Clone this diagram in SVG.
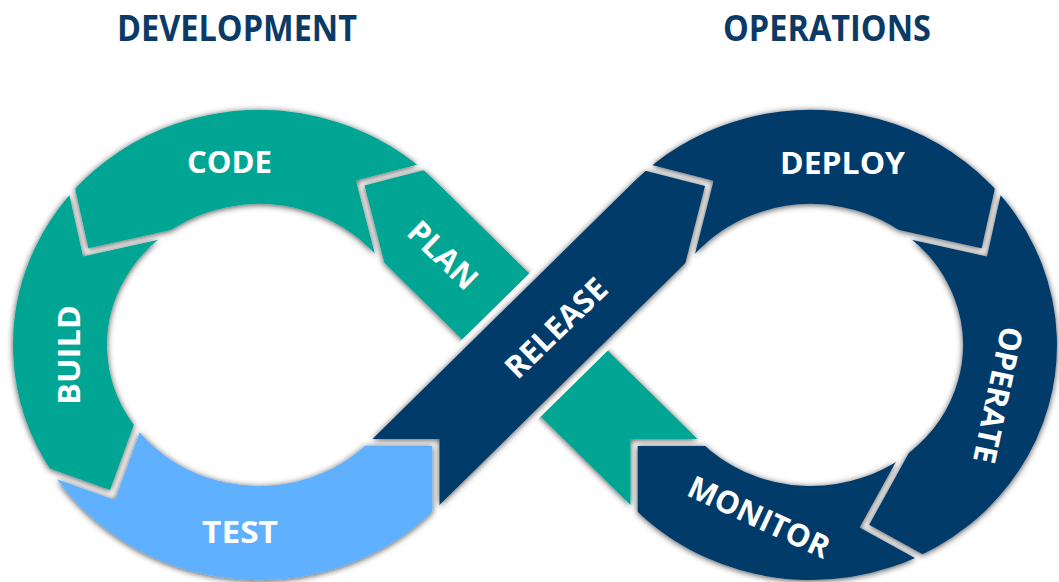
<svg xmlns="http://www.w3.org/2000/svg" width="1059" height="582" viewBox="0 0 1059 582">
<style>
.t{font-family:"Open Sans","Liberation Sans",sans-serif;font-weight:700;}
.title{fill:#0c3a66;font-size:35px;}
.lbl{fill:#ffffff;font-size:31px;}
.band{fill:none;stroke-width:94;stroke-linecap:butt;}
.teal{stroke:#00a594;}
.navy{stroke:#013b6b;}
.blue{stroke:#5eb0fe;}
</style>
<defs>
<filter id="sh" filterUnits="userSpaceOnUse" x="-100" y="-100" width="1300" height="800">
<feDropShadow dx="0" dy="1" stdDeviation="3" flood-color="#000" flood-opacity="0.7"/>
</filter>
<clipPath id="cPlan"><polygon points="720.5,439 630.5,439 630.5,529 480,420 387,272.7 364.5,185.6 451.6,163.1 590,270"/></clipPath>
<clipPath id="cCode"><polygon points="378.4,267.6 355.9,180.5 443,158 443,60 20,60 68.9,160.3 88.4,248.2 176.3,228.7 259,345"/></clipPath>
<clipPath id="cBuild"><polygon points="170.9,237.1 83,256.6 63.5,168.7 -40,140 -40,480 25.2,459.8 110,490 140.9,405.4 259,345"/></clipPath>
<clipPath id="cTest"><polygon points="145.9,415.4 115,500 30.2,469.8 0,600 440,600 432.3,536 432.3,446 342.3,446 259,345"/></clipPath>
<clipPath id="cRelease"><polygon points="349.5,438.9 439.5,438.9 439.5,528.9 560,470 682.8,273.1 705,185.9 617.8,163.7 480,280"/></clipPath>
<clipPath id="cDeploy"><polygon points="691.4,268 713.6,180.8 626.4,158.6 626,60 1040,60 1001.1,160.3 981.6,248.2 893.7,228.7 811,345"/></clipPath>
<clipPath id="cOperate"><polygon points="899.1,237.1 987,256.6 1006.5,168.7 1100,140 1100,620 948,568.3 869.2,524.8 912.7,446 811,345"/></clipPath>
<clipPath id="cMonitor"><polygon points="903.1,448.8 859.6,527.6 938.4,571.1 900,620 600,620 637.7,536 637.7,446 727.7,446 811,345"/></clipPath>
</defs>
<rect width="1059" height="582" fill="#ffffff"/>

<g id="title-development"><text class="t title" x="237" y="41" text-anchor="middle" textLength="240" lengthAdjust="spacingAndGlyphs">DEVELOPMENT</text></g>
<g id="title-operations"><text class="t title" x="827" y="41" text-anchor="middle" textLength="208" lengthAdjust="spacingAndGlyphs">OPERATIONS</text></g>

<g id="plan">
<g filter="url(#sh)"><path class="band teal" clip-path="url(#cPlan)" d="M667.6 475.4 L402.4 214.6 A199 188 0 0 0 310.5 163.4"/></g>
<text class="t lbl" text-anchor="middle" transform="translate(443 255) rotate(44)" x="0" y="11">PLAN</text>
</g>

<g id="code">
<g filter="url(#sh)"><path class="band teal" clip-path="url(#cCode)" d="M423.8 235.6 L402.4 214.6 A199 188 0 0 0 72 280.7"/></g>
<text class="t lbl" x="229.5" y="173" text-anchor="middle" textLength="85" lengthAdjust="spacingAndGlyphs">CODE</text>
</g>

<g id="build">
<g filter="url(#sh)"><path class="band teal" clip-path="url(#cBuild)" d="M144.9 191 A199 188 0 0 0 159.5 507.8"/></g>
<text class="t lbl" text-anchor="middle" transform="translate(80 355) rotate(-90)" x="0" y="0" textLength="100" lengthAdjust="spacingAndGlyphs">BUILD</text>
</g>

<g id="test">
<g filter="url(#sh)"><path class="band blue" clip-path="url(#cTest)" d="M72 409.3 A199 188 0 0 0 402.4 475.4 L445.2 433.3"/></g>
<text class="t lbl" x="240" y="543" text-anchor="middle" textLength="76" lengthAdjust="spacingAndGlyphs">TEST</text>
</g>

<g id="deploy">
<g filter="url(#sh)"><path class="band navy" clip-path="url(#cDeploy)" d="M646.2 235.6 L667.6 214.6 A199 188 0 0 1 998 280.7"/></g>
<text class="t lbl" x="842.5" y="174" text-anchor="middle" textLength="125" lengthAdjust="spacingAndGlyphs">DEPLOY</text>
</g>

<g id="operate">
<g filter="url(#sh)"><path class="band navy" clip-path="url(#cOperate)" d="M925.1 191 A199 188 0 0 1 828.3 532.3"/></g>
<text class="t lbl" text-anchor="middle" transform="translate(998 395) rotate(102)" x="0" y="11">OPERATE</text>
</g>

<g id="monitor">
<g filter="url(#sh)"><path class="band navy" clip-path="url(#cMonitor)" d="M938.9 489 A199 188 0 0 1 667.6 475.4 L624.8 433.3"/></g>
<text class="t lbl" text-anchor="middle" transform="translate(759 517) rotate(25)" x="0" y="11">MONITOR</text>
</g>

<polygon id="crossing-gap" points="547.7,255.3 624.9,333.7 522.3,434.7 445.1,356.3" fill="#ffffff"/>

<g id="release">
<g filter="url(#sh)"><path class="band navy" clip-path="url(#cRelease)" d="M402.4 475.4 L667.6 214.6 A199 188 0 0 1 776.5 159.9"/></g>
<text class="t lbl" text-anchor="middle" transform="translate(556 328) rotate(-44)" x="0" y="11">RELEASE</text>
</g>
</svg>
